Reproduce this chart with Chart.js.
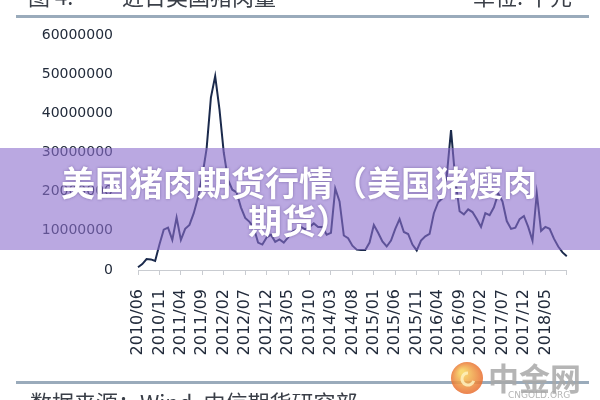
<!DOCTYPE html>
<html>
<head>
<meta charset="utf-8">
<script src="https://cdn.jsdelivr.net/npm/chart.js@4/dist/chart.umd.min.js"></script>
<style>
  html, body { margin: 0; padding: 0; background: #fff; }
  #wrap { width: 600px; height: 400px; position: relative; }
</style>
</head>
<body>
<div id="wrap"><canvas id="pork-chart" width="600" height="400"></canvas></div>
<script>
// monthly categories 2010/06 - 2018/10
var months = [
  '2010/06','2010/07','2010/08','2010/09','2010/10','2010/11','2010/12',
  '2011/01','2011/02','2011/03','2011/04','2011/05','2011/06','2011/07','2011/08','2011/09','2011/10','2011/11','2011/12',
  '2012/01','2012/02','2012/03','2012/04','2012/05','2012/06','2012/07','2012/08','2012/09','2012/10','2012/11','2012/12',
  '2013/01','2013/02','2013/03','2013/04','2013/05','2013/06','2013/07','2013/08','2013/09','2013/10','2013/11','2013/12',
  '2014/01','2014/02','2014/03','2014/04','2014/05','2014/06','2014/07','2014/08','2014/09','2014/10','2014/11','2014/12',
  '2015/01','2015/02','2015/03','2015/04','2015/05','2015/06','2015/07','2015/08','2015/09','2015/10','2015/11','2015/12',
  '2016/01','2016/02','2016/03','2016/04','2016/05','2016/06','2016/07','2016/08','2016/09','2016/10','2016/11','2016/12',
  '2017/01','2017/02','2017/03','2017/04','2017/05','2017/06','2017/07','2017/08','2017/09','2017/10','2017/11','2017/12',
  '2018/01','2018/02','2018/03','2018/04','2018/05','2018/06','2018/07','2018/08','2018/09','2018/10'
];

// 千元
var porkAmount = [
  700000, 1500000, 2800000, 2700000, 2300000, 6500000, 10300000,
  10800000, 7700000, 13400000, 7700000, 10500000, 11500000, 14500000, 18500000, 24000000, 31000000, 44000000, 49500000,
  41000000, 30000000, 23000000, 20500000, 19800000, 16000000, 13300000, 12300000, 10800000, 7000000, 6500000, 8300000,
  9000000, 7200000, 7800000, 7000000, 8300000, 9800000, 10400000, 11000000, 10400000, 11000000, 11900000, 11000000,
  11000000, 9000000, 9500000, 20800000, 17500000, 8800000, 8100000, 6200000, 5200000, 5100000, 5100000, 7000000,
  11500000, 9500000, 7300000, 6000000, 7500000, 10500000, 13000000, 9700000, 9200000, 6500000, 5000000, 7500000,
  8600000, 9200000, 14500000, 17300000, 18300000, 24000000, 35700000, 23000000, 15000000, 14200000, 15500000, 14800000,
  13000000, 11000000, 14500000, 14000000, 16000000, 19500000, 17500000, 12500000, 10500000, 10800000, 13000000, 13800000,
  11000000, 7500000, 19600000, 10000000, 11000000, 10500000, 8000000, 6000000, 4500000, 3500000
];

var yTicks = [0, 10000000, 20000000, 30000000, 40000000, 50000000, 60000000];
var labelEvery = 5;
var lastLabel = '2018/05';

var headerLeft = '图 4:';
var headerTitle = '近日美国猪肉量';
var headerUnit = '单位: 千元';
var footerSource = '数据来源：Wind, 中信期货研究部';
var bannerLines = ['美国猪肉期货行情（美国猪瘦肉', '期货）'];
var watermark = '中金网';
var watermarkSub = 'CNGOLD.ORG';

var textColor = '#222b3b';

// header, footer, banner and watermark drawn over the chart
var decorPlugin = {
  id: 'decor',
  afterDraw: function(chart) {
    var ctx = chart.ctx;
    ctx.save();

    // header (cut off at top)
    ctx.fillStyle = '#3a3f48';
    ctx.textBaseline = 'alphabetic';
    ctx.font = '22px "Noto Sans CJK SC", sans-serif';
    ctx.textAlign = 'left';
    ctx.fillText(headerLeft, 28, 5);
    ctx.fillText(headerTitle, 122, 5);
    ctx.textAlign = 'right';
    ctx.fillText(headerUnit, 572, 5);

    ctx.fillStyle = '#9aabbb';
    ctx.fillRect(16, 15, 573, 3);

    // footer
    ctx.fillStyle = '#9aabbb';
    ctx.fillRect(16, 381, 573, 3);
    ctx.fillStyle = '#3a3f48';
    ctx.textAlign = 'left';
    ctx.font = '22px "Noto Sans CJK SC", sans-serif';
    ctx.fillText(footerSource, 30, 411);

    // purple banner
    ctx.fillStyle = 'rgba(140, 110, 205, 0.6)';
    ctx.fillRect(0, 148, 600, 102);
    ctx.font = 'bold 34px "Noto Sans CJK SC", sans-serif';
    ctx.textAlign = 'center';
    ctx.textBaseline = 'middle';
    ctx.shadowColor = 'rgba(60, 40, 110, 0.45)';
    ctx.shadowBlur = 3;
    ctx.fillStyle = '#ffffff';
    ctx.fillText(bannerLines[0], 299, 183);
    ctx.fillText(bannerLines[1], 299, 221);
    ctx.shadowBlur = 0;
    ctx.shadowColor = 'transparent';

    // watermark
    var g = ctx.createRadialGradient(462, 372, 2, 467, 378, 17);
    g.addColorStop(0, '#f7d35a');
    g.addColorStop(1, '#e8682f');
    ctx.globalAlpha = 0.85;
    ctx.fillStyle = g;
    ctx.beginPath();
    ctx.arc(467, 378, 16, 0, Math.PI * 2);
    ctx.fill();
    ctx.strokeStyle = '#fff2c0';
    ctx.lineWidth = 3;
    ctx.beginPath();
    ctx.arc(468, 379, 6, Math.PI * 0.1, Math.PI * 1.5);
    ctx.stroke();
    ctx.fillStyle = '#a8a8a8';
    ctx.font = 'bold 31px "Noto Sans CJK SC", sans-serif';
    ctx.textAlign = 'left';
    ctx.textBaseline = 'alphabetic';
    ctx.fillText(watermark, 488, 390);
    ctx.font = '9px "DejaVu Sans", sans-serif';
    ctx.fillText(watermarkSub, 508, 398);
    ctx.restore();
  }
};

var ctx = document.getElementById('pork-chart').getContext('2d');
var pork_chart = new Chart(ctx, {
  type: 'line',
  data: {
    labels: months,
    datasets: [{
      label: '美国猪肉量',
      data: porkAmount,
      borderColor: '#1b2a4c',
      borderWidth: 2,
      pointRadius: 0,
      tension: 0,
      fill: false
    }]
  },
  options: {
    responsive: false,
    animation: false,
    layout: { padding: { left: 0, right: 26, top: 35, bottom: 0 } },
    plugins: {
      legend: { display: false },
      tooltip: { enabled: false }
    },
    scales: {
      x: {
        offset: false,
        border: { display: true, color: '#c9ccd1', width: 1 },
        grid: {
          drawOnChartArea: false,
          drawTicks: true,
          tickLength: 5,
          color: function(c) { return c.index % labelEvery === 0 ? '#c9ccd1' : 'rgba(0,0,0,0)'; }
        },
        ticks: {
          autoSkip: false,
          minRotation: 90,
          maxRotation: 90,
          padding: 14,
          color: textColor,
          font: { family: '"DejaVu Sans", sans-serif', size: 16 },
          callback: function(v, i) {
            if (i % labelEvery !== 0 || months[i] > lastLabel) return '';
            return months[i];
          }
        },
        afterFit: function(s) { s.height = 130; }
      },
      y: {
        min: 0,
        max: 60000000,
        border: { display: false },
        grid: { display: false, drawTicks: false },
        afterBuildTicks: function(s) { s.ticks = yTicks.map(function(v) { return { value: v }; }); },
        ticks: {
          padding: 25,
          color: textColor,
          font: { family: '"DejaVu Sans", sans-serif', size: 14 },
          callback: function(v) { return String(v); }
        },
        afterFit: function(s) { s.width = 138; }
      }
    }
  },
  plugins: [decorPlugin]
});
</script>
</body>
</html>
